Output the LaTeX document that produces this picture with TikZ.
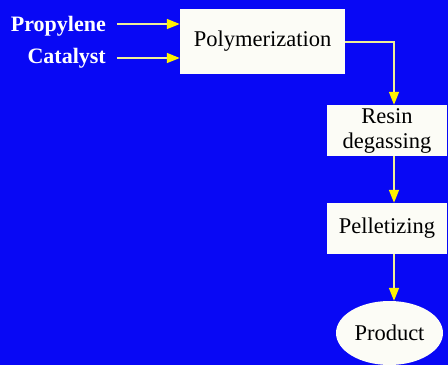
\documentclass[tikz,border=0pt]{standalone}
\usepackage{fontspec}
\setmainfont{Liberation Serif}
\usetikzlibrary{arrows.meta,shapes.geometric}
\definecolor{bg}{RGB}{8,8,245}
\definecolor{boxfill}{RGB}{252,252,246}
\definecolor{lineyel}{RGB}{240,240,150}
\tikzset{
  procbox/.style={fill=boxfill, draw=none, inner sep=0pt, font=\fontsize{22.5}{25}\selectfont, align=center},
  inlabel/.style={text=white, font=\bfseries\fontsize{22}{25}\selectfont, anchor=base east, inner sep=0pt},
  flow/.style={draw=lineyel, line width=1.4pt, -{Triangle[length=13pt,width=10pt,fill=yellow,color=yellow]}}
}
\begin{document}
\begin{tikzpicture}[x=1pt,y=-1pt]
\fill[bg] (0,0) rectangle (448,365);
\useasboundingbox (0,0) rectangle (448,365);
\node[procbox, minimum width=165pt, minimum height=65pt] (poly) at (262.5,41.5) {Polymerization};
\node[procbox, minimum width=120pt, minimum height=51pt] (resin) at (387,130.5) {Resin\\degassing};
\node[procbox, minimum width=120pt, minimum height=51pt] (pell) at (387,228.5) {Pelletizing};
\node[ellipse, fill=boxfill, inner sep=0pt, minimum width=107pt, minimum height=64pt, font=\fontsize{22.5}{25}\selectfont] (prod) at (389.5,333) {Product};
\node[inlabel] (prop) at (106,31) {Propylene};
\node[inlabel] (cat) at (106,63) {Catalyst};
\coordinate (propend) at (poly.west |- 0,24);
\coordinate (catend) at (poly.west |- 0,58);
\draw[flow] (propend) ++(-63,0) -- (propend);
\draw[flow] (catend) ++(-63,0) -- (catend);
\coordinate (bend) at (394,42);
\draw[flow] (poly.east |- bend) -- (bend) -- (bend |- resin.north);
\draw[flow] (resin.south -| bend) -- (pell.north -| bend);
\draw[flow] (pell.south -| bend) -- (prod.north -| bend);
\end{tikzpicture}
\end{document}
